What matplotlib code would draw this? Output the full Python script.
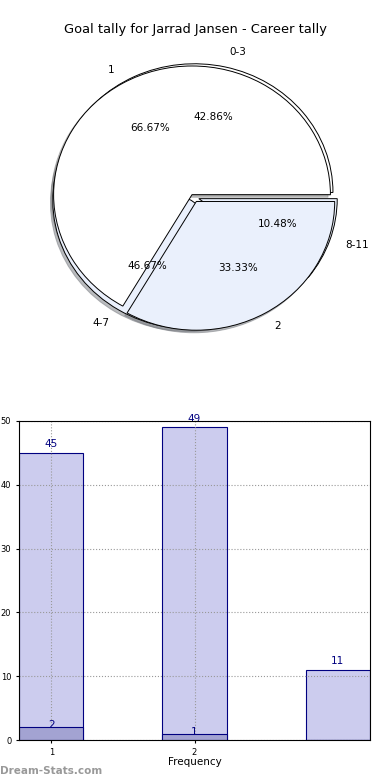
import matplotlib as mpl
mpl.use('Agg')
import matplotlib.pyplot as plt
import numpy as np

# data
freq_labels = ['1', '2']
freq_counts = [2, 1]
tally_labels = ['0-3', '4-7', '8-11']
tally_counts = [45, 49, 11]
bar_x = [1, 2, 3]
bar_total = [45, 49, 11]
bar_freq = [2, 1, 0]
xtick_pos = [1, 2]
xtick_labels = ['1', '2']

fig = plt.figure(figsize=(3.9, 7.8), dpi=100)
fig.text(0.5, 1 - 30 / 780., 'Goal tally for Jarrad Jansen - Career tally',
         ha='center', va='center', fontsize=9.4)

# pie section
ax = fig.add_axes([0.041, 0.536, 0.91, 0.423])
pie_kw = dict(shadow={'ox': -0.012, 'oy': -0.014, 'shade': 0.5},
              autopct='%1.2f%%', labeldistance=1.12, radius=0.975,
              textprops={'fontsize': 7.5},
              wedgeprops={'edgecolor': 'black', 'linewidth': 0.7})
ax.pie(tally_counts, labels=tally_labels, explode=[0.035, 0.03, 0.04],
       colors=['white', '#eaf0fc', '#eaf0fc'], **pie_kw)
ax.pie(freq_counts, labels=freq_labels, explode=[0.02, 0.04],
       colors=['white', '#eaf0fc'], **pie_kw)
ax.set_aspect('auto')
ax.set_xlim(-1.25, 1.25)
ax.set_ylim(-1.25, 1.25)

# bar section
bx = fig.add_axes([19 / 390., 1 - 740 / 780., 351 / 390., 319 / 780.])
bars = bx.bar(bar_x, bar_total, width=0.45, color='#ccccee',
              edgecolor='#000080', linewidth=0.8, zorder=2)
fbars = bx.bar(bar_x, bar_freq, width=0.45, color='#a3a3d2',
               edgecolor='#000080', linewidth=0.8, zorder=3)
for x, h in zip(bar_x, bar_total):
    bx.text(x, h + 0.6, str(h), ha='center', va='bottom', color='#000080', fontsize=7.5)
for x, h in zip(bar_x, bar_freq):
    if h > 0:
        bx.text(x, h - 0.5, str(h), ha='center', va='bottom', color='#000080',
                fontsize=7.5, zorder=6)
bx.set_xlim(0.775, 3.225)
bx.set_ylim(0, 50)
bx.set_xticks(xtick_pos)
bx.set_xticklabels(xtick_labels)
bx.set_yticks(np.arange(0, 51, 10))
bx.tick_params(labelsize=6, length=2)
bx.grid(True, linestyle=':', color='#999999', linewidth=0.8)
bx.set_axisbelow(False)
for gl in bx.get_xgridlines() + bx.get_ygridlines():
    gl.set_zorder(5)
for sp in bx.spines.values():
    sp.set_zorder(7)
bx.set_xlabel('Frequency', fontsize=7.5, labelpad=0)

fig.text(0.0, 1 - 771 / 780., 'Dream-Stats.com', fontsize=7.5, color='#999999',
         fontweight='bold', ha='left', va='center')

plt.savefig('out.png', dpi=100)
plt.close()
